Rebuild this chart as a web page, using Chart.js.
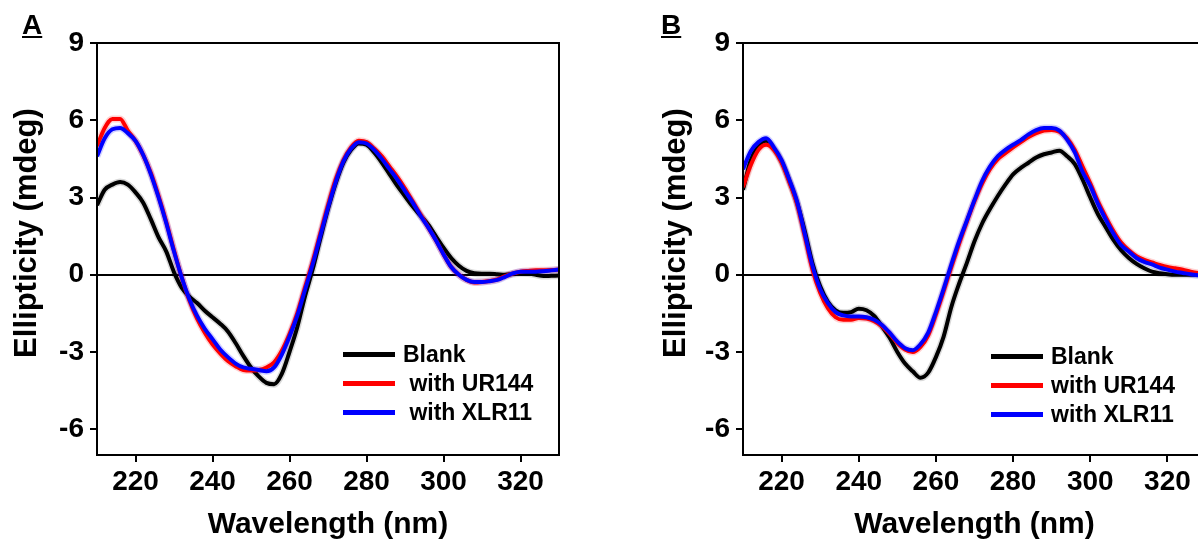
<!DOCTYPE html>
<html>
<head>
<meta charset="utf-8">
<script src="https://cdn.jsdelivr.net/npm/chart.js@4.4.1/dist/chart.umd.min.js"></script>
<style>
  html, body { margin: 0; padding: 0; background: #fff; overflow: hidden; }
  #page { position: relative; width: 1198px; height: 546px; overflow: hidden;
          font-family: "Liberation Sans", Arial, sans-serif; font-weight: bold; color: #000; }
  canvas { position: absolute; top: 0; }
  #chart-a { left: 0; }
  #chart-b { left: 600px; }
  .letter { position: absolute; top: 10px; font-size: 28px; line-height: 30px; text-decoration: underline;
            text-decoration-thickness: 2px; text-underline-offset: 2px; }
  .ytitle { position: absolute; top: 233px; font-size: 31px; white-space: nowrap;
            transform: translate(-50%, -50%) rotate(-90deg); }
  .row { position: absolute; height: 28px; display: flex; align-items: center; font-size: 23px; white-space: pre; }
  .swatch { width: 52px; height: 5px; margin-right: 8px; }
</style>
</head>
<body>
<div id="page">
  <canvas id="chart-a" width="600" height="546"></canvas>
  <canvas id="chart-b" width="620" height="546"></canvas>
  <div class="letter" style="left:22px">A</div>
  <div class="letter" style="left:661px">B</div>
  <div class="ytitle" style="left:26px">Ellipticity (mdeg)</div>
  <div class="ytitle" style="left:675px">Ellipticity (mdeg)</div>
  <div id="legend-a"></div>
  <div id="legend-b"></div>
</div>
<script>
const wavelengths = [210, 212, 214, 216, 218, 220, 222, 224, 226, 228,
  230, 232, 234, 236, 238, 240, 242, 244, 246, 248,
  250, 252, 254, 256, 258, 260, 262, 264, 266, 268,
  270, 272, 274, 276, 278, 280, 282, 284, 286, 288,
  290, 292, 294, 296, 298, 300, 302, 304, 306, 308,
  310, 312, 314, 316, 318, 320, 322, 324, 326, 328, 330];

const xTicks = [220, 240, 260, 280, 300, 320];
const yTicks = [-6, -3, 0, 3, 6, 9];
const seriesNames = ["Blank", "with UR144", "with XLR11"];

// panel A
const blankA = [2.7, 3.3, 3.5, 3.6, 3.5, 3.2, 2.8, 2.15, 1.45, 0.9,
  0.1, -0.5, -0.85, -1.1, -1.4, -1.65, -1.9, -2.2, -2.65, -3.15,
  -3.6, -3.95, -4.2, -4.25, -3.85, -3.0, -2.05, -0.85, 0.2, 1.4,
  2.55, 3.55, 4.35, 4.85, 5.1, 5.05, 4.75, 4.35, 3.9, 3.45,
  3.05, 2.65, 2.3, 1.95, 1.5, 1.05, 0.65, 0.35, 0.15, 0.06,
  0.04, 0.04, 0.02, 0.0, 0.03, 0.06, 0.05, 0.0, -0.05, -0.04, -0.03];
const ur144A = [5.0, 5.7, 6.05, 6.05, 5.6, 5.2, 4.65, 3.95, 3.05, 2.05,
  0.95, -0.1, -1.0, -1.7, -2.25, -2.7, -3.05, -3.35, -3.55, -3.7,
  -3.72, -3.7, -3.6, -3.4, -2.95, -2.3, -1.5, -0.5, 0.5, 1.6,
  2.7, 3.7, 4.45, 4.95, 5.2, 5.15, 4.9, 4.6, 4.2, 3.8,
  3.35, 2.85, 2.35, 1.85, 1.35, 0.8, 0.3, 0.0, -0.2, -0.3,
  -0.28, -0.24, -0.18, -0.05, 0.05, 0.12, 0.15, 0.17, 0.17, 0.18, 0.2];
const xlr11A = [4.6, 5.3, 5.65, 5.7, 5.5, 5.2, 4.65, 3.9, 3.0, 2.0,
  0.9, -0.1, -0.95, -1.6, -2.1, -2.5, -2.9, -3.2, -3.45, -3.6,
  -3.65, -3.7, -3.75, -3.6, -3.1, -2.4, -1.6, -0.6, 0.4, 1.5,
  2.6, 3.6, 4.4, 4.9, 5.15, 5.1, 4.85, 4.5, 4.1, 3.7,
  3.25, 2.8, 2.3, 1.85, 1.35, 0.8, 0.3, 0.0, -0.2, -0.28,
  -0.28, -0.25, -0.2, -0.08, 0.05, 0.12, 0.12, 0.12, 0.14, 0.17, 0.2];

// panel B
const blankB = [3.3, 4.45, 5.0, 5.2, 4.9, 4.4, 3.65, 2.8, 1.7, 0.45,
  -0.45, -1.05, -1.38, -1.48, -1.45, -1.32, -1.38, -1.6, -2.0, -2.45,
  -3.0, -3.45, -3.75, -4.0, -3.8, -3.2, -2.4, -1.25, -0.35, 0.45,
  1.3, 2.0, 2.55, 3.05, 3.5, 3.9, 4.15, 4.35, 4.55, 4.68,
  4.75, 4.82, 4.6, 4.3, 3.7, 3.0, 2.35, 1.85, 1.35, 0.95,
  0.65, 0.42, 0.25, 0.12, 0.06, 0.02, 0.0, 0.0, 0.0, 0.0, 0.0];
const ur144B = [3.4, 4.25, 4.85, 5.05, 4.85, 4.35, 3.6, 2.75, 1.5, 0.2,
  -0.7, -1.3, -1.65, -1.75, -1.75, -1.68, -1.7, -1.8, -2.0, -2.3,
  -2.65, -2.9, -3.0, -2.8, -2.35, -1.55, -0.65, 0.3, 1.2, 2.05,
  2.85, 3.55, 4.1, 4.48, 4.72, 4.95, 5.15, 5.35, 5.5, 5.6,
  5.62, 5.55, 5.3, 4.85, 4.2, 3.55, 2.85, 2.25, 1.7, 1.25,
  0.95, 0.72, 0.58, 0.48, 0.38, 0.3, 0.25, 0.2, 0.12, 0.07, 0.05];
const xlr11B = [4.1, 4.8, 5.15, 5.3, 4.95, 4.45, 3.7, 2.85, 1.6, 0.35,
  -0.55, -1.1, -1.45, -1.58, -1.62, -1.62, -1.65, -1.75, -1.95, -2.25,
  -2.6, -2.85, -2.93, -2.7, -2.25, -1.45, -0.55, 0.4, 1.3, 2.1,
  2.9, 3.65, 4.2, 4.6, 4.85, 5.05, 5.23, 5.45, 5.62, 5.7,
  5.7, 5.6, 5.25, 4.75, 4.0, 3.45, 2.75, 2.15, 1.6, 1.15,
  0.9, 0.65, 0.5, 0.4, 0.28, 0.2, 0.12, 0.07, 0.02, -0.02, -0.03];

const colors = ["#000000", "#ff0000", "#0000ff"];
const halos = ["rgba(0,0,0,0.15)", "rgba(255,0,0,0.18)", "rgba(0,0,255,0.18)"];
const FONT = "'Liberation Sans', Arial, sans-serif";

const frame = {
  id: "frame",
  afterDatasetsDraw(chart) {
    const { ctx, chartArea: a } = chart;
    ctx.save();
    ctx.strokeStyle = "#000";
    ctx.lineWidth = 2;
    ctx.strokeRect(a.left, a.top, a.right - a.left, a.bottom - a.top);
    ctx.restore();
  },
};

function makeChart(id, seriesData, yWidth, rightPad) {
  const datasets = [];
  seriesData.forEach((values, i) => {
    const pts = wavelengths.map((w, k) => ({ x: w, y: values[k] }));
    datasets.push({ label: seriesNames[i], data: pts, borderColor: colors[i], borderWidth: 4, order: 2 - i });
    datasets.push({ label: seriesNames[i] + " band", data: pts, borderColor: halos[i], borderWidth: 7, order: 10 - i });
  });

  return new Chart(document.getElementById(id), {
    type: "line",
    data: { datasets },
    options: {
      responsive: false,
      animation: false,
      layout: { padding: { top: 43, right: rightPad, left: 0, bottom: 0 } },
      elements: { point: { radius: 0 }, line: { cubicInterpolationMode: "monotone" } },
      plugins: { legend: { display: false }, tooltip: { enabled: false } },
      scales: {
        x: {
          type: "linear",
          min: 210,
          max: 330,
          afterBuildTicks: (s) => { s.ticks = xTicks.map((v) => ({ value: v })); },
          afterFit: (s) => { s.height = 91; },
          grid: { drawOnChartArea: false, color: "#000", tickColor: "#000", tickLength: 7, lineWidth: 2, tickWidth: 2 },
          border: { display: true, color: "#000", width: 2 },
          ticks: { color: "#000", font: { family: FONT, size: 28, weight: "bold" }, padding: 3, maxRotation: 0 },
          title: { display: true, text: "Wavelength (nm)", color: "#000",
                   font: { family: FONT, size: 30, weight: "bold" }, padding: { top: 0, bottom: 3 } },
        },
        y: {
          min: -7,
          max: 9,
          afterBuildTicks: (s) => { s.ticks = yTicks.map((v) => ({ value: v })); },
          afterFit: (s) => { s.width = yWidth; },
          grid: { color: (c) => (c.tick && c.tick.value === 0 ? "#000" : "rgba(0,0,0,0)"),
                  tickColor: "#000", tickLength: 7, lineWidth: 2, tickWidth: 2 },
          border: { display: true, color: "#000", width: 2 },
          ticks: { color: "#000", font: { family: FONT, size: 28, weight: "bold" }, padding: 6 },
        },
      },
    },
    plugins: [frame],
  });
}

makeChart("chart-a", [blankA, ur144A, xlr11A], 97, 41);
makeChart("chart-b", [blankB, ur144B, xlr11B], 143, 14);

function buildLegend(id, lineLeft, textGap, rowsY, lead) {
  const box = document.getElementById(id);
  seriesNames.forEach((name, i) => {
    const row = document.createElement("div");
    row.className = "row";
    row.style.left = lineLeft + "px";
    row.style.top = rowsY[i] - 14 + "px";
    const sw = document.createElement("span");
    sw.className = "swatch";
    sw.style.background = colors[i];
    sw.style.marginRight = textGap + "px";
    row.appendChild(sw);
    const txt = document.createElement("span");
    txt.textContent = (i > 0 && lead ? " " : "") + name;
    row.appendChild(txt);
    box.appendChild(row);
  });
}

buildLegend("legend-a", 343, 8, [354, 383, 412], true);
buildLegend("legend-b", 991, 8, [356, 385, 414], false);
</script>
</body>
</html>
